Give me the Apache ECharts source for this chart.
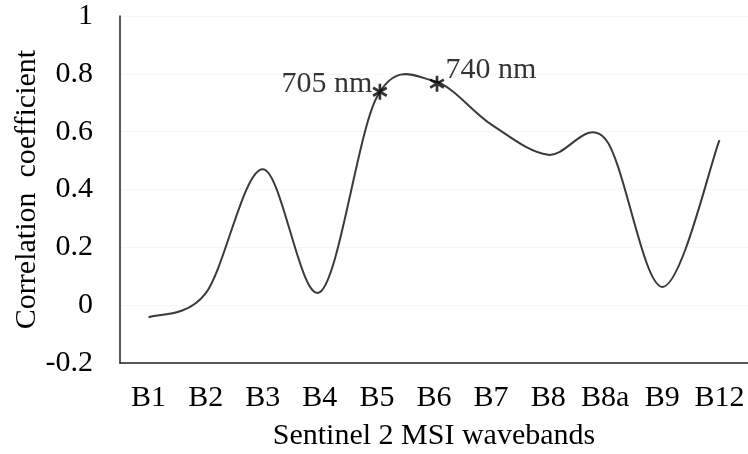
<!DOCTYPE html>
<html>
<head>
<meta charset="utf-8">
<script src="https://cdn.jsdelivr.net/npm/echarts@6/dist/echarts.min.js"></script>
<style>
html,body{margin:0;padding:0;background:#fff;}
#chart{width:748px;height:454px;}
</style>
</head>
<body>
<div id="chart"></div>
<script>
const categories = ['B1','B2','B3','B4','B5','B6','B7','B8','B8a','B9','B12'];
const correlation = [-0.042, 0.041, 0.47, 0.045, 0.72, 0.775, 0.625, 0.52, 0.575, 0.063, 0.571];
const markedBands = ['B5','B6'];
const markedValues = [0.738, 0.766];
const markedLabels = ['705 nm', '740 nm'];
const yTicks = [-0.2, 0, 0.2, 0.4, 0.6, 0.8, 1];

const FONT = '"Liberation Serif", "Times New Roman", serif';
const FS = 30;
const chart = echarts.init(document.getElementById('chart'));

const asterisk = 'path://M-1.2,-7 L1.2,-7 L1.2,7 L-1.2,7 Z ' +
  'M5.46,-4.54 L6.66,-2.46 L-5.46,4.54 L-6.66,2.46 Z ' +
  'M-6.66,-2.46 L-5.46,-4.54 L6.66,2.46 L5.46,4.54 Z';

// Smoothed line (Catmull-Rom, like a spreadsheet smoothed line) through the data,
// positioned with the chart's own coordinate system.
function renderCurve(params, api) {
  if (params.dataIndex !== 0) return null;
  const pts = correlation.map((v, i) => api.coord([i, v]));
  const n = pts.length;
  const P = i => pts[Math.max(0, Math.min(n - 1, i))];
  let d = 'M' + pts[0][0] + ',' + pts[0][1];
  for (let i = 0; i < n - 1; i++) {
    const p0 = P(i - 1), p1 = P(i), p2 = P(i + 1), p3 = P(i + 2);
    const c1x = p1[0] + (p2[0] - p0[0]) / 6, c1y = p1[1] + (p2[1] - p0[1]) / 6;
    const c2x = p2[0] - (p3[0] - p1[0]) / 6, c2y = p2[1] - (p3[1] - p1[1]) / 6;
    d += ' C' + c1x + ',' + c1y + ' ' + c2x + ',' + c2y + ' ' + p2[0] + ',' + p2[1];
  }
  return {
    type: 'path',
    shape: { pathData: d },
    style: { stroke: '#3a3a3a', lineWidth: 2, fill: null }
  };
}

chart.setOption({
  animation: false,
  backgroundColor: '#fff',
  grid: { left: 120, right: 0, top: 16, bottom: 91, containLabel: false, outerBoundsMode: 'none' },
  xAxis: {
    type: 'category',
    data: categories,
    boundaryGap: true,
    name: 'Sentinel 2 MSI wavebands',
    nameLocation: 'middle',
    nameGap: 58,
    nameMoveOverlap: false,
    nameTextStyle: { fontFamily: FONT, fontSize: FS, color: '#000' },
    axisLine: { onZero: false, lineStyle: { color: '#222', width: 1.5 } },
    axisTick: { show: false },
    axisLabel: { fontFamily: FONT, fontSize: FS, color: '#000', margin: 20, interval: 0 },
    splitLine: { show: false }
  },
  yAxis: {
    type: 'value',
    min: yTicks[0],
    max: yTicks[yTicks.length - 1],
    interval: 0.2,
    name: 'Correlation  coefficient',
    nameLocation: 'middle',
    nameGap: 78,
    nameRotate: 90,
    nameMoveOverlap: false,
    nameTextStyle: { fontFamily: FONT, fontSize: FS, color: '#000' },
    axisLine: { show: true, lineStyle: { color: '#222', width: 1.5 } },
    axisTick: { show: false },
    axisLabel: {
      fontFamily: FONT, fontSize: FS, color: '#000', margin: 27,
      formatter: v => String(Math.round(v * 10) / 10)
    },
    splitLine: { show: true, lineStyle: { color: '#f5f5f5', width: 1 } }
  },
  series: [
    {
      type: 'custom',
      renderItem: renderCurve,
      data: correlation.map((v, i) => [i, v]),
      encode: { x: 0, y: 1 },
      silent: true,
      z: 2
    },
    {
      type: 'scatter',
      data: markedBands.map((b, i) => ({
        value: [b, markedValues[i]],
        label: i === 0
          ? { show: true, position: 'left', distance: 0, offset: [0, -8], formatter: markedLabels[i] }
          : { show: true, position: 'right', distance: 1, offset: [0, -14], formatter: markedLabels[i] }
      })),
      symbol: asterisk,
      symbolSize: [15, 16],
      symbolOffset: [3, 0],
      itemStyle: { color: '#000' },
      label: { fontFamily: FONT, fontSize: FS, color: '#000' },
      z: 3
    }
  ]
});
</script>
</body>
</html>
